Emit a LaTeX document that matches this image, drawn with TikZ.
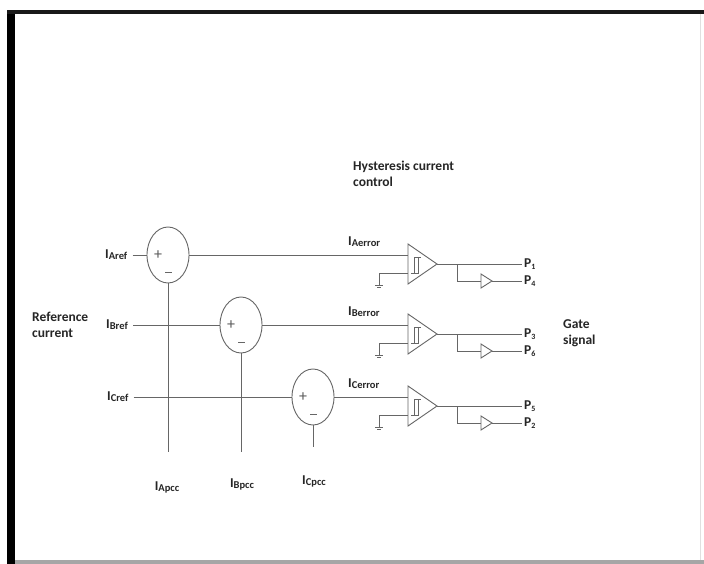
\documentclass[tikz,border=0pt]{standalone}
\usepackage{fontspec}
\setmainfont{Carlito}
\usetikzlibrary{shapes.geometric,calc}
\newcommand\mysub[2]{#1{\fontsize{10.5}{11}\selectfont\raisebox{-1pt}{#2}}}
\newcommand\psub[2]{#1{\fontsize{8}{9}\selectfont\raisebox{-1.5pt}{#2}}}
\begin{document}
\begin{tikzpicture}[x=1pt,y=-1pt,
  wire/.style={draw=black!60,line width=0.9pt},
  sumnode/.style={ellipse,draw=black!60,line width=0.9pt,minimum width=42pt,minimum height=56pt,inner sep=0pt},
  lbl/.style={font=\fontsize{13.5}{16}\selectfont\bfseries,inner sep=0pt,text=black!85,align=left},
  sign/.style={font=\fontsize{16}{16}\selectfont,inner sep=0pt,text=black!65}]
\useasboundingbox (0,0) rectangle (704,564);
\fill[white] (0,0) rectangle (704,564);
% frame
\fill[black] (7,10) rectangle (15,564);
\fill[black!90] (7,10) rectangle (704,14);
\fill[black!35] (15,560) rectangle (704,564);
\draw[black!12,line width=0.8pt] (700,14) -- (700,560);

% titles
\node[lbl,anchor=north west] (hyst) at (353,161) {Hysteresis current\\control};
\node[lbl,anchor=west] (refc) at (32,325) {Reference\\current};
\node[lbl,anchor=west] (gate) at (563,333) {Gate\\signal};

% summing junctions
\node[sumnode] (sA) at (168,255) {};
\node[sumnode] (sB) at (241,325) {};
\node[sumnode] (sC) at (313,397) {};
\foreach \n in {A,B,C}{
  \node[sign] at ($(s\n.center)+(-10,0)$) {+};
  \draw[wire] ($(s\n.center)+(-3,17)$) -- ($(s\n.center)+(4,17)$);
}

% reference labels
\node[lbl,anchor=west] (rA) at (105,255) {\mysub{I}{Aref}};
\node[lbl,anchor=west] (rB) at (106,325) {\mysub{I}{Bref}};
\node[lbl,anchor=west] (rC) at (107,397) {\mysub{I}{Cref}};
\draw[wire] ([xshift=5pt]sA.west -| rA.east) -- (sA.west);
\draw[wire] ([xshift=5pt]sB.west -| rB.east) -- (sB.west);
\draw[wire] ([xshift=5pt]sC.west -| rC.east) -- (sC.west);

% pcc feedback
\node[lbl] (pA) at (167,487) {\mysub{I}{Apcc}};
\node[lbl] (pB) at (242,484) {\mysub{I}{Bpcc}};
\node[lbl] (pC) at (314,481) {\mysub{I}{Cpcc}};
\coordinate (bA) at (168,452);
\coordinate (bB) at (241,452);
\coordinate (bC) at (313,447);
\draw[wire] (sA.south) -- (bA);
\draw[wire] (sB.south) -- (bB);
\draw[wire] (sC.south) -- (bC);

% hysteresis comparators
\foreach \n/\r/\up/\lo in {A/255/1/4, B/325/3/6, C/397/5/2}{
  \coordinate (in\n) at (408,\r);
  \coordinate (gnd\n) at (408,{\r+18});
  \coordinate (gc\n) at (379,{\r+18});
  \coordinate (gb\n) at (379,{\r+30});
  \coordinate (out\n) at (437,{\r+9});
  \coordinate (br\n) at (457,{\r+9});
  \coordinate (bk\n) at (457,{\r+26});
  \coordinate (bi\n) at (481,{\r+26});
  \coordinate (bo\n) at (492,{\r+26});
  \coordinate (e1\n) at (522,{\r+9});
  \coordinate (e2\n) at (522,{\r+26});
  \draw[wire] (s\n.east) -- (in\n);
  \draw[wire] (408,{\r-11}) -- (out\n) -- (408,{\r+29}) -- cycle;
  \draw[wire,line width=0.7pt] (411,{\r+18}) -- (418,{\r+18}) -- (418,{\r+2}) -- (414,{\r+2}) -- (414,{\r+18});
  \draw[wire,line width=0.7pt] (418,{\r+2}) -- (421,{\r+2});
  \draw[wire] (gnd\n) -- (gc\n) -- (gb\n);
  \draw[wire] ($(gb\n)+(-4,0)$) -- ($(gb\n)+(4,0)$);
  \draw[wire,line width=0.6pt] ($(gb\n)+(-2,2)$) -- ($(gb\n)+(2,2)$);
  \draw[wire] (out\n) -- (e1\n);
  \draw[wire] (br\n) -- (bk\n) -- (bi\n);
  \draw[wire] (481,{\r+19}) -- (bo\n) -- (481,{\r+33}) -- cycle;
  \draw[wire] (bo\n) -- (e2\n);
  \node[lbl,anchor=west] at ([xshift=2pt]e1\n) {\psub{P}{\up}};
  \node[lbl,anchor=west] at ([xshift=2pt]e2\n) {\psub{P}{\lo}};
  \node[lbl,anchor=west] at (348,{\r-13}) {\mysub{I}{\n error}};
}
\end{tikzpicture}
\end{document}
